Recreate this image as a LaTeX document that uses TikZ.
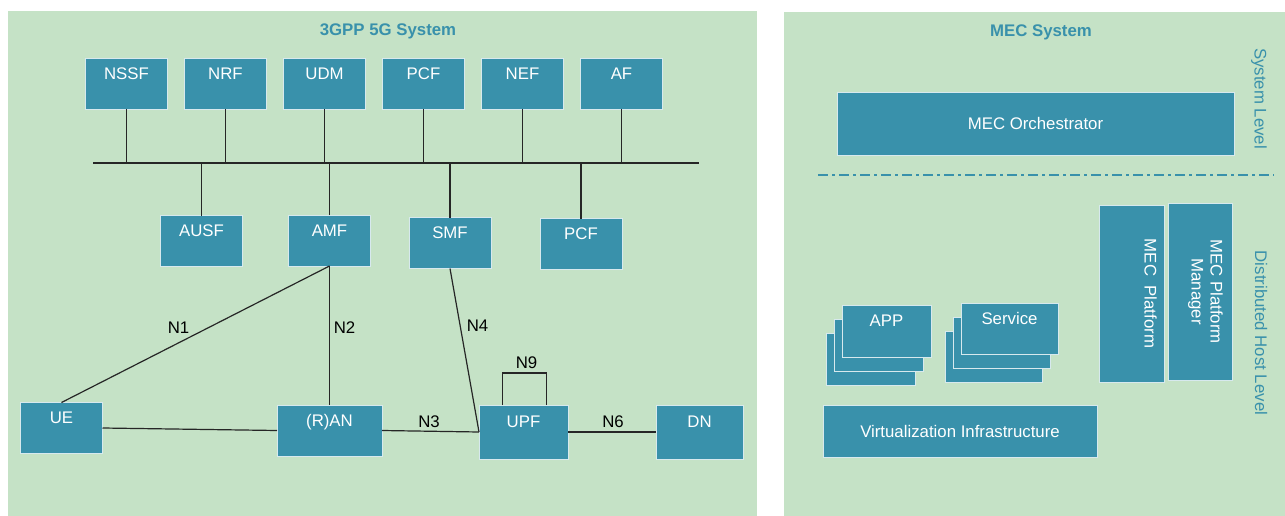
\documentclass[tikz,border=0pt]{standalone}
\usepackage{fontspec}
\setmainfont{Liberation Sans}
\usetikzlibrary{positioning, shadows}

\definecolor{panelgreen}{RGB}{197,226,198}
\definecolor{nfteal}{RGB}{57,145,171}

\tikzset{
  txt/.style={font=\fontsize{16.8}{19}\selectfont},
  nf/.style={txt, draw=white!80!nfteal, line width=0.8pt, fill=nfteal, text=white,
    minimum width=82pt, minimum height=51pt, inner sep=2pt, outer sep=0pt,
    text height=12pt, text depth=21pt},
  mecbox/.style={txt, draw=white!80!nfteal, line width=0.8pt, fill=nfteal, text=white,
    inner sep=2pt, outer sep=0pt},
  stack/.style={nf,
    general shadow={fill=nfteal, draw=white!80!nfteal, line width=0.8pt, shadow xshift=-16pt, shadow yshift=-28pt},
    general shadow={fill=nfteal, draw=white!80!nfteal, line width=0.8pt, shadow xshift=-8pt, shadow yshift=-14pt}},
  vtxt/.style={txt, rotate=-90, text=white, inner sep=2pt, align=center},
  lvl/.style={txt, rotate=-90, text=nfteal, inner sep=1pt},
  lbl/.style={txt, inner sep=1pt},
  title/.style={text=nfteal, font=\bfseries\fontsize{16.8}{19}\selectfont},
  link/.style={draw=black!85, line width=1.2pt},
}

\begin{document}
\begin{tikzpicture}[x=1pt, y=-1pt]
  \useasboundingbox (0,0) rectangle (1285,516);
  \fill[panelgreen] (8,11) rectangle (757,516);
  \fill[panelgreen] (784,12) rectangle (1285,516);

  \node[title] (t5g) at (388,31.5) {3GPP 5G System};
  \node[title] (tmec) at (1041,32) {MEC System};

  % 5G core, service based part
  \node[nf] (nssf) at (126.5,84) {NSSF};
  \node[nf, right=17pt of nssf] (nrf) {NRF};
  \node[nf, right=17pt of nrf] (udm) {UDM};
  \node[nf, right=17pt of udm] (pcf) {PCF};
  \node[nf, right=17pt of pcf] (nef) {NEF};
  \node[nf, right=17pt of nef] (af) {AF};

  \node[nf] (ausf) at (201.5,241) {AUSF};
  \node[nf] (amf) at (329.5,240.5) {AMF};
  \node[nf] (smf) at (450,243) {SMF};
  \node[nf] (pcfb) at (581,244) {PCF};

  \coordinate (busL) at (93,163);
  \coordinate (busR) at (699,163);
  \draw[link] (busL) -- (busR);

  \draw[link] (nssf.south) -- (nssf.south |- busL);
  \draw[link] (nrf.south) -- (nrf.south |- busL);
  \draw[link] (udm.south) -- (udm.south |- busL);
  \draw[link] (pcf.south) -- (pcf.south |- busL);
  \draw[link] (nef.south) -- (nef.south |- busL);
  \draw[link] (af.south) -- (af.south |- busL);
  \draw[link] (ausf.north) -- (ausf.north |- busL);
  \draw[link] (amf.north) -- (amf.north |- busL);
  \draw[link] (smf.north) -- (smf.north |- busL);
  \draw[link] (pcfb.north) -- (pcfb.north |- busL);

  % access and user plane
  \node[nf] (ue) at (61.5,428) {UE};
  \node[nf, minimum width=105pt] (ran) at (329.5,430.5) {(R)AN};
  \node[nf, minimum width=89pt, minimum height=54pt] (upf) at (523.5,432) {UPF};
  \node[nf, minimum width=87pt, minimum height=54pt] (dn) at (699.5,432) {DN};

  \draw[link] (amf.south) -- (ue.north);
  \draw[link] (amf.south) -- (ran.north);
  \draw[link] (ue.east) -- (ran.west);
  \draw[link] (ran.east) -- (upf.west);
  \draw[link] (smf.south) -- (upf.west);
  \draw[link] (upf.east) -- (dn.west);
  \draw[link] ([xshift=-21pt]upf.north) -- ++(0,-32) -| ([xshift=23pt]upf.north);

  \node[lbl] (n1) at (178.5,328) {N1};
  \node[lbl] (n2) at (344.5,328) {N2};
  \node[lbl] (n4) at (477.5,326) {N4};
  \node[lbl] (n9) at (526.5,362.5) {N9};
  \node[lbl] (n3) at (429,422) {N3};
  \node[lbl] (n6) at (613,422) {N6};

  % MEC side
  \node[mecbox, minimum width=397pt, minimum height=63pt] (orch) at (1035.5,123.5) {MEC Orchestrator};
  \node[lvl] (syslvl) at (1259,98.5) {System Level};

  \coordinate (sepL) at (818,175);
  \coordinate (sepR) at (1274,175);
  \draw[nfteal, line width=1.3pt, dash pattern=on 10pt off 4pt on 3pt off 4pt] (sepL) -- (sepR);

  \node[mecbox, minimum width=65pt, minimum height=177pt] (plat) at (1131.5,293.5) {};
  \node[vtxt, anchor=north] (platlbl) at ([xshift=-5pt]plat.east) {MEC\ \ Platform};
  \node[mecbox, minimum width=64pt, minimum height=177pt] (platmgr) at (1200,291.5) {};
  \node[vtxt, anchor=north] (platmgrlbl) at ([xshift=-7pt]platmgr.east) {MEC Platform\\Manager};
  \node[lvl] (hostlvl) at (1261,333) {Distributed Host Level};

  \node[stack, minimum width=89pt, minimum height=52pt] (app) at (886.5,331) {APP};
  \node[stack, minimum width=97pt] (svc) at (1009.5,328.5) {Service};
  \node[mecbox, minimum width=274pt, minimum height=52pt] (virt) at (960,431) {Virtualization Infrastructure};
\end{tikzpicture}
\end{document}
